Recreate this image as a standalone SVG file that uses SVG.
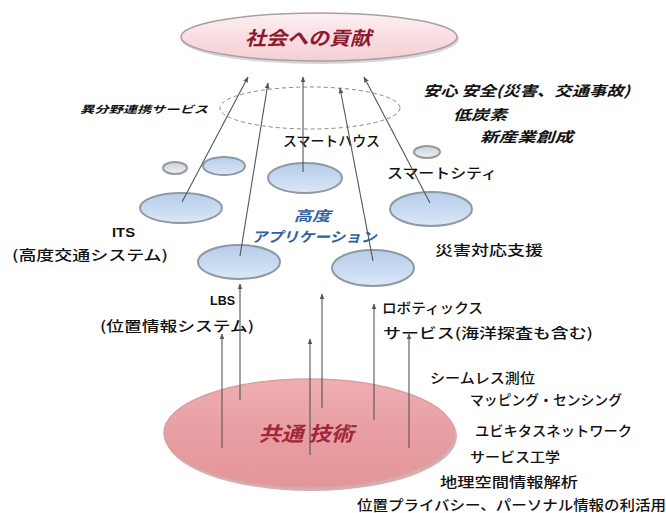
<svg xmlns="http://www.w3.org/2000/svg" width="666" height="513" viewBox="0 0 666 513">
<defs>
<linearGradient id="gPink" x1="0" y1="0" x2="0" y2="1">
<stop offset="0" stop-color="#fdf0f2"/><stop offset="0.5" stop-color="#f9dde2"/><stop offset="1" stop-color="#f3cfd5"/>
</linearGradient>
<linearGradient id="gBlue" x1="0" y1="0" x2="0" y2="1">
<stop offset="0" stop-color="#b7cde9"/><stop offset="0.6" stop-color="#cadcf2"/><stop offset="1" stop-color="#dce8f7"/>
</linearGradient>
<linearGradient id="gGray" x1="0" y1="0" x2="0" y2="1">
<stop offset="0" stop-color="#c9d2dc"/><stop offset="1" stop-color="#eef1f4"/>
</linearGradient>
<linearGradient id="gRed" x1="0" y1="0" x2="0" y2="1">
<stop offset="0" stop-color="#efaeb2"/><stop offset="0.5" stop-color="#e89ea2"/><stop offset="1" stop-color="#e3969a"/>
</linearGradient>
<marker id="ah" viewBox="0 0 10 10" refX="9" refY="5" markerWidth="6" markerHeight="6" orient="auto-start-reverse" markerUnits="userSpaceOnUse">
<path d="M0,1 L10,5 L0,9 Z" fill="#555"/>
</marker>
<style>
.t{font-family:"Noto Sans CJK JP","Noto Sans",sans-serif;font-size:14px;font-weight:500;fill:#111}
.bi{font-family:"Noto Sans CJK JP","Noto Sans",sans-serif;font-weight:bold;font-style:italic;fill:#111}
.b{font-family:"Liberation Sans","Noto Sans",sans-serif;font-weight:bold;font-size:12px;fill:#111}
.bl{fill:url(#gBlue);stroke:#8e99a6;stroke-width:2}
.gr{fill:url(#gGray);stroke:#999;stroke-width:2}
.cn line{stroke:#555;stroke-width:1.1;marker-end:url(#ah)}
</style>
</defs>
<rect width="666" height="513" fill="#ffffff"/>

<g id="society">
<ellipse cx="320" cy="39" rx="139" ry="25" fill="#bbb" opacity="0.6"/>
<ellipse cx="319" cy="37" rx="138" ry="24" fill="url(#gPink)" stroke="#a8a0a4" stroke-width="1.5"/>
<text class="bi" x="308" y="45" font-size="19" style="fill:#8b1a2e" text-anchor="middle" textLength="126" lengthAdjust="spacingAndGlyphs">社会への貢献</text>
</g>

<g id="cross-service">
<ellipse cx="310" cy="108" rx="90" ry="21" fill="none" stroke="#888" stroke-width="1" stroke-dasharray="4,3"/>
<text class="bi" x="80" y="113" font-size="10" textLength="128" lengthAdjust="spacingAndGlyphs">異分野連携サービス</text>
</g>

<g id="common-tech">
<ellipse cx="311" cy="436" rx="146" ry="55" fill="#c98a8e" opacity="0.7"/>
<ellipse cx="309" cy="433" rx="145" ry="54" fill="url(#gRed)" stroke="#d8a0a3" stroke-width="1.5"/>
<text class="bi" x="306" y="441" font-size="20" style="fill:#a0283a" text-anchor="middle" textLength="95" lengthAdjust="spacingAndGlyphs">共通 技術</text>
</g>

<g id="small-ellipses">
<ellipse class="gr" cx="175" cy="168" rx="12" ry="6"/>
<ellipse class="bl" cx="224" cy="166" rx="21" ry="9"/>
<ellipse class="gr" cx="427" cy="152" rx="13" ry="6"/>
</g>

<g id="smart-house">
<ellipse class="bl" cx="305" cy="178" rx="37" ry="15"/>
<text class="t" x="283" y="146" textLength="97" lengthAdjust="spacingAndGlyphs">スマートハウス</text>
</g>

<g id="its">
<ellipse class="bl" cx="181" cy="208" rx="41" ry="15"/>
<text class="b" x="112" y="237" textLength="23" lengthAdjust="spacingAndGlyphs">ITS</text>
<text class="t" x="12" y="260" textLength="156" lengthAdjust="spacingAndGlyphs">(高度交通システム)</text>
</g>

<g id="disaster">
<ellipse class="bl" cx="431" cy="209" rx="41" ry="17"/>
<text class="t" x="435" y="255" textLength="108" lengthAdjust="spacingAndGlyphs">災害対応支援</text>
</g>

<g id="lbs">
<ellipse class="bl" cx="239" cy="262" rx="41" ry="17"/>
<text class="b" x="210" y="305" textLength="25" lengthAdjust="spacingAndGlyphs">LBS</text>
<text class="t" x="100" y="331" textLength="154" lengthAdjust="spacingAndGlyphs">(位置情報システム)</text>
</g>

<g id="robotics">
<ellipse class="bl" cx="373" cy="268" rx="41" ry="18"/>
<text class="t" x="382" y="313" textLength="101" lengthAdjust="spacingAndGlyphs">ロボティックス</text>
<text class="t" x="383" y="338" textLength="210" lengthAdjust="spacingAndGlyphs">サービス(海洋探査も含む)</text>
</g>

<g id="advanced-app">
<text class="bi" x="312" y="221" font-size="14" style="fill:#2f62a3" text-anchor="middle" textLength="37" lengthAdjust="spacingAndGlyphs">高度</text>
<text class="bi" x="314" y="242" font-size="14" style="fill:#2f62a3" text-anchor="middle" textLength="125" lengthAdjust="spacingAndGlyphs">アプリケーション</text>
</g>

<g id="goals">
<text class="bi" x="423" y="96" font-size="14" textLength="207" lengthAdjust="spacingAndGlyphs">安心 安全(災害、交通事故)</text>
<text class="bi" x="453" y="120" font-size="14" textLength="54" lengthAdjust="spacingAndGlyphs">低炭素</text>
<text class="bi" x="480" y="142" font-size="14" textLength="93" lengthAdjust="spacingAndGlyphs">新産業創成</text>
</g>

<g id="smart-city">
<text class="t" x="387" y="178" textLength="110" lengthAdjust="spacingAndGlyphs">スマートシティ</text>
</g>

<g id="tech-list">
<text class="t" x="430" y="383" textLength="105" lengthAdjust="spacingAndGlyphs">シームレス測位</text>
<text class="t" x="470" y="405" textLength="152" lengthAdjust="spacingAndGlyphs">マッピング・センシング</text>
<text class="t" x="475" y="436" textLength="157" lengthAdjust="spacingAndGlyphs">ユビキタスネットワーク</text>
<text class="t" x="470" y="462" textLength="90" lengthAdjust="spacingAndGlyphs">サービス工学</text>
<text class="t" x="440" y="487" textLength="138" lengthAdjust="spacingAndGlyphs">地理空間情報解析</text>
<text class="t" x="357" y="510" textLength="309" lengthAdjust="spacingAndGlyphs">位置プライバシー、パーソナル情報の利活用</text>
</g>

<g id="connectors" class="cn">
<line x1="182" y1="202" x2="248" y2="77"/>
<line x1="240" y1="256" x2="268" y2="83"/>
<line x1="303" y1="172" x2="303" y2="77"/>
<line x1="373" y1="261" x2="340" y2="88"/>
<line x1="430" y1="203" x2="364" y2="77"/>
<line x1="222" y1="448" x2="222" y2="334"/>
<line x1="240" y1="400" x2="240" y2="284"/>
<line x1="310" y1="455" x2="310" y2="339"/>
<line x1="322" y1="408" x2="322" y2="294"/>
<line x1="374" y1="420" x2="374" y2="304"/>
<line x1="409" y1="448" x2="409" y2="334"/>
</g>
</svg>
